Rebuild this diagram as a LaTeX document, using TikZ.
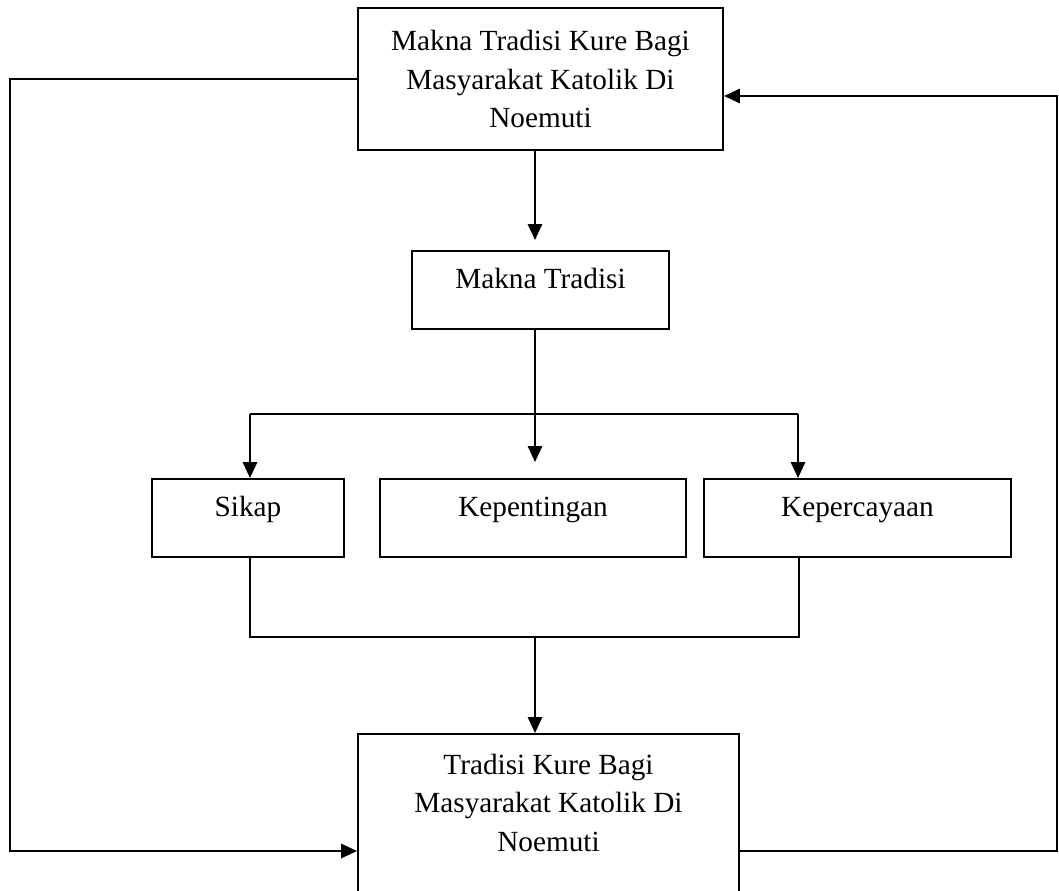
\documentclass[tikz,border=0pt]{standalone}
\usepackage{fontspec}
\setmainfont{Liberation Serif}
\usetikzlibrary{arrows.meta}
\begin{document}
\begin{tikzpicture}[
        x=0.025cm, y=-0.025cm,
        line width=1.3pt,
        every node/.append style={draw, rectangle, align=center, inner ysep=0.5cm,
            font=\fontsize{20.8pt}{27.3pt}\selectfont},
        satu/.style={anchor=north, text height=0.45cm, text depth=0.5cm},
        panah/.style={-{Triangle[length=0.4cm, width=0.36cm]}}
    ]
        \useasboundingbox (0,0) rectangle (1059,890);
        \node[minimum width=9.125cm, minimum height=3.55cm] (maknaKure) at (540.5,79)
            {Makna Tradisi Kure Bagi\\Masyarakat Katolik Di\\Noemuti};
        \node[satu, minimum width=6.425cm] (makna) at (540.5,250) {Makna Tradisi};
        \node[satu, minimum width=4.8cm] (sikap) at (248,478) {Sikap};
        \node[satu, minimum width=7.65cm] (penting) at (533,478) {Kepentingan};
        \node[satu, minimum width=7.675cm] (percaya) at (857.5,478) {Kepercayaan};
        \node[anchor=north, minimum width=9.525cm] (tradisi) at (548.5,733)
            {Tradisi Kure Bagi\\Masyarakat Katolik Di\\Noemuti\\[1cm]\mbox{}};
        \coordinate (cabang) at (535,414);
        \coordinate (cabangKiri) at (250,414);
        \coordinate (cabangKanan) at (798,414);
        \coordinate (gabung) at (535,637);
        \coordinate (gabungKiri) at (250,637);
        \coordinate (gabungKanan) at (799,637);
        \coordinate (kiri) at (10,851);
        \coordinate (kanan) at (1057,851);
        \coordinate (kananAtas) at (1057,96);
        \draw[panah, shorten >=0.25cm] (maknaKure.south -| cabang) -- (makna.north -| cabang);
        \draw (makna.south -| cabang) -- (cabang);
        \draw (cabangKiri) -- (cabangKanan);
        \draw[panah] (cabangKiri) -- (sikap.north -| cabangKiri);
        \draw[panah, shorten >=0.4cm] (cabang) -- (penting.north -| cabang);
        \draw[panah] (cabangKanan) -- (percaya.north -| cabangKanan);
        \draw (sikap.south -| gabungKiri) -- (gabungKiri) -- (gabungKanan) -- (percaya.south -| gabungKanan);
        \draw[panah] (gabung) -- (tradisi.north -| gabung);
        \draw[panah] (maknaKure.west) -| (kiri) -- (tradisi.west |- kiri);
        \draw[panah] (tradisi.east |- kanan) -- (kanan) |- (maknaKure.east |- kananAtas);
    \end{tikzpicture}
\end{document}
